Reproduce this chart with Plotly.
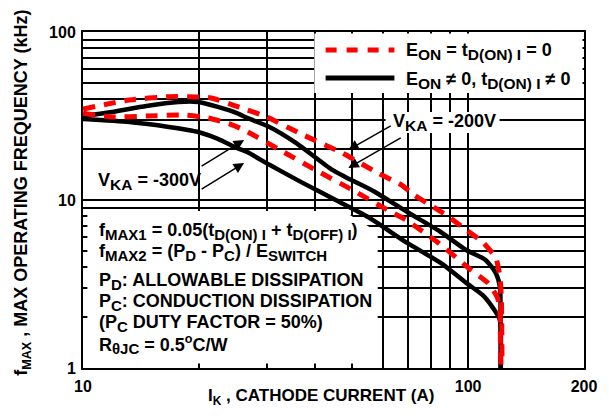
import plotly.graph_objects as go

# ---- data ----
red_200_x = [10, 13.2, 16.7, 18.7, 21.5, 24.7, 26.7, 30, 37.3, 47.1, 58.2, 67.1, 72.4, 81.4, 90, 98.9, 109, 118, 121, 122, 122.5]
red_200_y = [34.8, 39.4, 41.2, 41.2, 40.5, 36.5, 34.4, 31.2, 24.4, 19.05, 14.5, 12.3, 10.7, 9.08, 7.81, 6.63, 5.62, 4.52, 3.48, 2.65, 1.05]

black_200_x = [10, 11.9, 14.6, 17.7, 19.9, 22.4, 25.1, 26.7, 30.5, 35.8, 44.4, 48, 57.2, 69.5, 84.9, 98.9, 111, 118, 121, 121.4, 121.6]
black_200_y = [31.6, 33.4, 36.3, 38.3, 38.3, 35.8, 32.9, 30.8, 27.2, 21.8, 15.1, 13.7, 11.2, 8.48, 6.45, 5.04, 4.40, 3.68, 3.03, 1.93, 1.0]

red_300_x = [10, 11.9, 14.6, 18.4, 21.1, 24.1, 26.2, 32.4, 41, 50, 61.8, 69, 83.8, 101.8, 112.5, 119.3, 121, 121.4, 121.8]
red_300_y = [32.9, 31.2, 31.6, 32.0, 30.8, 28.3, 26.1, 19.9, 14.7, 11.5, 8.72, 7.6, 5.55, 3.83, 3.21, 2.61, 2.12, 1.33, 1.02]

black_300_x = [10, 13.2, 16.7, 19.9, 22.4, 25.1, 26.7, 30.5, 37.3, 45.3, 55, 69.5, 84.9, 98.9, 109, 116, 121, 121.4]
black_300_y = [30.3, 29.1, 27.2, 25.4, 23.1, 20.4, 19.3, 16.2, 12.6, 10.0, 7.92, 5.55, 4.22, 3.21, 2.72, 2.28, 1.93, 1.0]

x_tickvals = [10, 100, 200]
x_ticktext = ["10", "100", "200"]
x_minor = [20, 30, 40, 50, 60, 70, 80, 90]
y_tickvals = [1, 10, 100]
y_ticktext = ["1", "10", "100"]
y_minor = [2, 3, 4, 5, 6, 7, 8, 9, 20, 30, 40, 50, 60, 70, 80, 90]

FONT = "Liberation Sans, Arial, Helvetica, sans-serif"
RED = "#ff0000"
DASH = "12px,9px"


def sub(s, px=15):
    return f"<sub><span style='font-size:{px}px'>{s}</span></sub>"


fig = go.Figure()
for xs, ys, color, dash, w in [
    (black_200_x, black_200_y, "black", "solid", 4.5),
    (black_300_x, black_300_y, "black", "solid", 4.5),
    (red_200_x, red_200_y, RED, DASH, 5),
    (red_300_x, red_300_y, RED, DASH, 5),
]:
    fig.add_trace(go.Scatter(x=xs, y=ys, mode="lines",
                             line=dict(color=color, width=w, dash=dash, shape="spline", smoothing=0.6),
                             showlegend=False, hoverinfo="skip"))

axis_common = dict(
    type="log", showgrid=True, gridcolor="black", gridwidth=1.5,
    showline=True, linecolor="black", linewidth=2, mirror=True,
    ticks="inside", ticklen=4, tickcolor="black", tickwidth=1.5,
    tickfont=dict(family=FONT, size=16, color="black", weight="bold"),
    zeroline=False,
)

fig.update_xaxes(**axis_common, range=[1, 2.30103], tickvals=x_tickvals, ticktext=x_ticktext,
                 ticklabelstandoff=3,
                 minor=dict(tickvals=x_minor, showgrid=True, gridcolor="black", gridwidth=1.5,
                            ticks="inside", ticklen=4, tickcolor="black", tickwidth=1.5))
fig.update_yaxes(**axis_common, range=[0, 2], tickvals=y_tickvals, ticktext=y_ticktext,
                 ticklabelstandoff=2,
                 minor=dict(tickvals=y_minor, showgrid=True, gridcolor="black", gridwidth=1.5,
                            ticks="inside", ticklen=4, tickcolor="black", tickwidth=1.5))

# white areas that hide the grid behind texts
shapes = [
    dict(type="path", xref="paper", yref="paper",
         path="M 0.0088 0.4673 L 0.5196 0.4673 L 0.5882 0.4048 L 0.5882 0.0134 L 0.0088 0.0134 Z",
         fillcolor="white", line=dict(width=0), layer="above"),
    dict(type="rect", xref="paper", yref="paper", x0=0.4618, x1=0.997, y0=0.8185, y1=0.9955,
         fillcolor="white", line=dict(width=0), layer="above"),
    dict(type="rect", xref="paper", yref="paper", x0=0.604, x1=0.8314, y0=0.6994, y1=0.7619,
         fillcolor="white", line=dict(width=0), layer="above"),
    # legend samples
    dict(type="line", xref="paper", yref="paper", x0=0.4843, x1=0.6216, y0=0.9464, y1=0.9464,
         line=dict(color=RED, width=5, dash="11px,10px"), layer="above"),
    dict(type="line", xref="paper", yref="paper", x0=0.4843, x1=0.6216, y0=0.8631, y1=0.8631,
         line=dict(color="black", width=5), layer="above"),
]


def txt(text, x, y, size=18, xanchor="left", yanchor="middle", **kw):
    return dict(text=text, x=x, y=y, xref="paper", yref="paper", showarrow=False,
                xanchor=xanchor, yanchor=yanchor,
                font=dict(family=FONT, size=size, color="black", weight="bold"), **kw)


annotations = [
    txt(f"E{sub('ON', 15.5)} = t{sub('D(ON) I', 15.5)} = 0", 0.6412, 0.9405),
    txt(f"E{sub('ON', 15.5)} ≠ 0, t{sub('D(ON) I', 15.5)} ≠ 0", 0.6412, 0.857),
    txt(f"V{sub('KA', 15.5)} = -200V", 0.7216, 0.7321, xanchor="center"),
    txt(f"V{sub('KA', 15.5)} = -300V", 0.1333, 0.5565, xanchor="center"),
    txt(f"f{sub('MAX1')} = 0.05(t{sub('D(ON) I')} + t{sub('D(OFF) I')})", 0.0275, 0.4048),
    txt(f"f{sub('MAX2')} = (P{sub('D')} - P{sub('C')}) / E{sub('SWITCH')}", 0.0275, 0.3452),
    txt(f"P{sub('D')}: ALLOWABLE DISSIPATION", 0.0275, 0.256),
    txt(f"P{sub('C')}: CONDUCTION DISSIPATION", 0.0275, 0.1964),
    txt(f"(P{sub('C')} DUTY FACTOR = 50%)", 0.0275, 0.131),
    txt(f"R{sub('θJC')} = 0.5<sup>o</sup>C/W", 0.0275, 0.0714),
    # axis titles
    txt("I<sub>K</sub> , CATHODE CURRENT (A)", 0.476, -0.085, size=17, xanchor="center"),
    txt("f<sub>MAX</sub> , MAX OPERATING FREQUENCY (kHz)", -0.12, 0.521, size=18,
        xanchor="center", textangle=-90),
]

# arrows (head position, tail offset in pixels)
for hx, hy, ax, ay in [(0.3216, 0.6786, -44, 27), (0.3216, 0.6101, -44, 27),
                       (0.5294, 0.6488, 44, -25), (0.5294, 0.5952, 54, -31)]:
    annotations.append(dict(text="", x=hx, y=hy, xref="paper", yref="paper", ax=ax, ay=ay,
                            showarrow=True, arrowhead=2, arrowsize=1.4, arrowwidth=1.5,
                            arrowcolor="black", standoff=0))

# the page body keeps its default 8px margin, so the figure is 8px smaller
fig.update_layout(
    width=601, height=411,
    margin=dict(l=75, r=16, t=24, b=51),
    paper_bgcolor="white", plot_bgcolor="white",
    shapes=shapes, annotations=annotations, showlegend=False,
)

fig.write_html("out.html", config={"displayModeBar": False})
